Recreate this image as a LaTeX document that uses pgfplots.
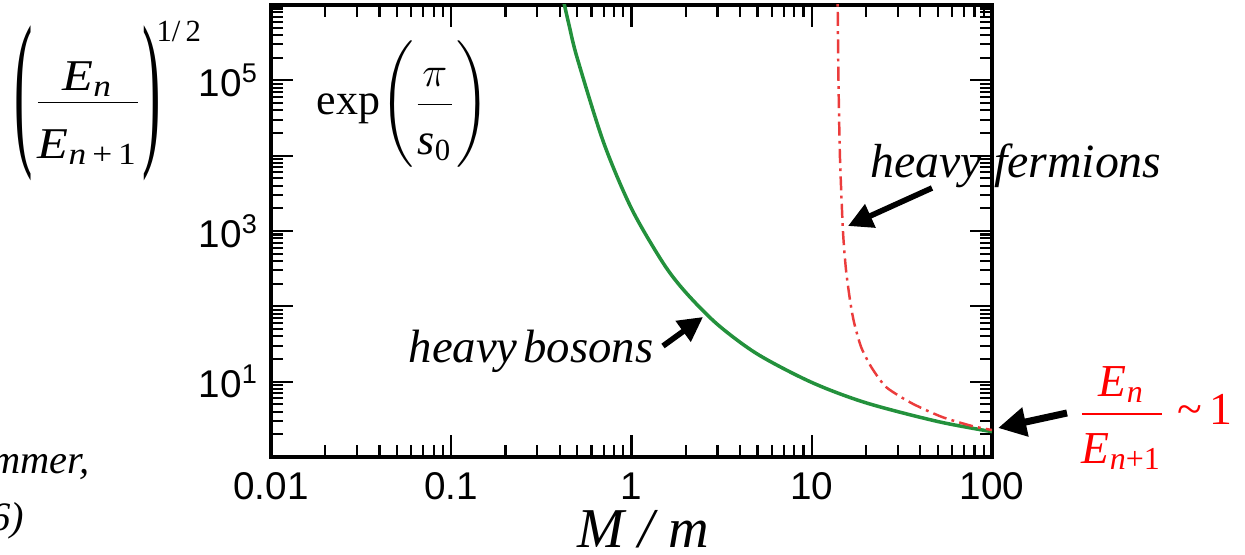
\documentclass[border=0pt]{standalone}
\usepackage{amsmath}
\usepackage{graphicx}
\usepackage{fontspec}
\setmainfont{Liberation Serif}
\setsansfont{Liberation Sans}
\usepackage{pgfplots}
\pgfplotsset{compat=1.18}
\usetikzlibrary{arrows.meta}
\definecolor{bosgreen}{RGB}{35,145,60}
\definecolor{ferred}{RGB}{235,60,60}
\newcommand{\ti}[1]{\textit{#1}}
\newcommand{\tu}[1]{\textup{#1}}
\newcommand{\bigparen}[1]{\raisebox{-0.72em}{\scalebox{1.25}[3.9]{#1}}}
\begin{document}
\begin{tikzpicture}
\path[use as bounding box] (0,0) rectangle (12.45,5.54);
\clip (0,0) rectangle (12.45,5.54);
\begin{axis}[
  at={(2.71cm,0.97cm)}, anchor=south west,
  width=7.21cm, height=4.52cm, scale only axis,
  xmode=log, ymode=log,
  xmin=0.01, xmax=100, ymin=1, ymax=1000000,
  xtick={0.01,0.1,1,10,100},
  xticklabels={0.01,0.1,1,10,100},
  ytick={1,10,100,1000,10000,100000,1000000},
  yticklabels={,10\textsuperscript{1},,10\textsuperscript{3},,10\textsuperscript{5},},
  minor xtick={0.02,0.03,0.04,0.05,0.06,0.07,0.08,0.09,0.2,0.3,0.4,0.5,0.6,0.7,0.8,0.9,2,3,4,5,6,7,8,9,20,30,40,50,60,70,80,90},
  minor ytick={2,3,4,5,6,7,8,9,20,30,40,50,60,70,80,90,200,300,400,500,600,700,800,900,2000,3000,4000,5000,6000,7000,8000,9000,20000,30000,40000,50000,60000,70000,80000,90000,200000,300000,400000,500000,600000,700000,800000,900000},
  tick pos=both, tick align=inside,
  major tick length=0.22cm, minor tick length=0.12cm,
  every tick/.style={black, line width=0.6pt},
  axis line style={line width=0.9pt},
  ticklabel style={font=\fontsize{11}{12}\selectfont\sffamily},
  xticklabel style={yshift=-1pt},
]
\addplot[bosgreen, line width=1pt, smooth, tension=0.5] coordinates {
(0.385,2800000) (0.40,1890000) (0.45,546000) (0.5,197000) (0.7,15000)
(1,1986) (1.5,374) (2,153) (3,57.5) (5,23.2) (10,9.77) (20,5.24)
(50,2.96) (100,2.17)
};
\addplot[ferred, line width=0.7pt, smooth, tension=0.4,
  dash pattern=on 4pt off 1.5pt on 0.8pt off 1.5pt] coordinates {
(13.85,10000000) (13.93,1000000) (14.07,100000) (14.33,10000) (14.9,1000)
(15.5,300) (16.4,110) (17.2,60) (18.8,28.7) (21.4,15.6) (25.9,8.45)
(36,5.15) (52.8,3.4) (77.5,2.58) (100,2.28)
};
\end{axis}
% left formula
\node[anchor=base west, inner sep=0pt, font=\fontsize{12.5}{15}\selectfont] at (0.14,4.41) {%
\bigparen{(}%
\scalebox{1.15}[1]{\(\dfrac{\raisebox{-0.13em}[\height][0pt]{\(\ti{E}_{\ti{n}}\)}}{\rule{0pt}{1.14em}\ti{E}_{\ti{n}\tu{\,+\,1}}}\)}%
\bigparen{)}%
\kern-0.1em\raisebox{1.63em}{\fontsize{8.75}{10}\selectfont 1/\,2}};
% exp formula
\node[anchor=west, inner sep=0pt, font=\fontsize{12.5}{15}\selectfont] at (3.16,4.50)
  {\(\tu{exp}\!\left(\rule[-1.2em]{0pt}{2.9em}\dfrac{\pi}{\rule{0pt}{1.0em}\ti{s}_{\tu{0}}}\right)\)};
% labels
\node[anchor=base west, inner sep=0pt, font=\fontsize{13.3}{15}\selectfont\itshape] at (4.08,1.92) {heavy\hspace{0.12em}bosons};
\draw[-{Triangle[length=7pt,width=7pt]}, line width=1.6pt] (6.63,2.08) -- (7.03,2.37);
\node[anchor=base west, inner sep=0pt, font=\fontsize{13.6}{15}\selectfont\itshape] at (8.70,3.76) {heavy fermions};
\draw[-{Triangle[length=7pt,width=7pt]}, line width=1.6pt] (9.32,3.66) -- (8.48,3.28);
\draw[-{Triangle[length=8pt,width=8pt]}, line width=2pt] (10.67,1.41) -- (9.98,1.26);
\node[anchor=west, inner sep=0pt, text=red, font=\fontsize{13}{15}\selectfont] at (10.77,1.36)
  {\(\dfrac{\ti{E}_{\ti{n}}}{\rule{0pt}{0.94em}\ti{E}_{\ti{n}\tu{+1}}}\;\tu{\textasciitilde}\,\tu{1}\)};
\node[anchor=base, inner sep=0pt, font=\fontsize{16}{18}\selectfont\itshape] at (6.43,0.07) {M / m};
% citation (cut off at left edge)
\node[anchor=base east, inner sep=0pt, font=\fontsize{11.5}{13}\selectfont\itshape] at (0.90,0.81) {Braaten \& Hammer,};
\node[anchor=base east, inner sep=0pt, font=\fontsize{11.5}{13}\selectfont\itshape] at (0.25,0.24) {(2006)};
\end{tikzpicture}
\end{document}
